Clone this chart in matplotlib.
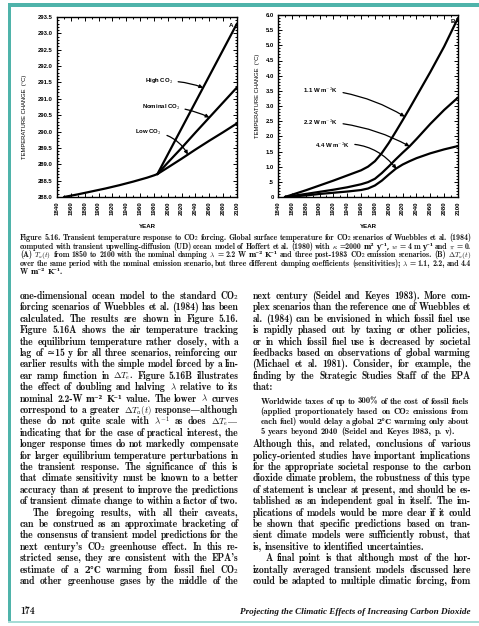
import matplotlib
matplotlib.use("Agg")
import matplotlib.pyplot as plt
from matplotlib.patches import Rectangle
from matplotlib.ticker import MultipleLocator

plt.rcParams['mathtext.fontset'] = 'cm'

# ---------------- data ----------------
# panel A : surface temperature, common history then three CO2 scenarios
years_past = [1850, 1870, 1890, 1910, 1930, 1950, 1960, 1970, 1980, 1985]
temp_past = [288.0, 288.08, 288.17, 288.26, 288.36, 288.47, 288.53, 288.59, 288.66, 288.70]
years_future = [1985, 2000, 2020, 2040, 2060, 2080, 2100]
temp_high = [288.70, 289.30, 290.10, 290.90, 291.70, 292.50, 293.30]
temp_nominal = [288.70, 289.05, 289.50, 289.97, 290.43, 290.89, 291.35]
temp_low = [288.70, 288.90, 289.17, 289.45, 289.72, 289.98, 290.25]

# panel B : temperature change for three damping coefficients
years_b = [1850, 1880, 1900, 1920, 1940, 1960, 1970, 1980, 1990, 2000, 2010, 2020, 2030, 2040, 2060, 2080, 2100]
dT_11 = [0, 0.22, 0.38, 0.54, 0.71, 0.88, 1.00, 1.18, 1.45, 1.78, 2.15, 2.53, 2.92, 3.32, 4.12, 4.96, 5.90]
dT_22 = [0, 0.10, 0.17, 0.24, 0.32, 0.42, 0.49, 0.60, 0.79, 1.01, 1.24, 1.46, 1.67, 1.91, 2.41, 2.87, 3.28]
dT_44 = [0, 0.05, 0.10, 0.14, 0.18, 0.23, 0.28, 0.38, 0.54, 0.74, 0.93, 1.07, 1.18, 1.28, 1.44, 1.57, 1.68]

year_ticks = [1840, 1860, 1880, 1900, 1920, 1940, 1960, 1980, 2000, 2020, 2040, 2060, 2080, 2100]
temp_ticks = [288.0, 288.5, 289.0, 289.5, 290.0, 290.5, 291.0, 291.5, 292.0, 292.5, 293.0, 293.5]
temp_labels = ['288.0', '288.5', '289.0', '289.5', '290.0', '290.5', '291.0', '291.5',
               '292.0', '292.5', '293.0', '293.5']
dT_ticks = [0, 0.5, 1.0, 1.5, 2.0, 2.5, 3.0, 3.5, 4.0, 4.5, 5.0, 5.5, 6.0]
dT_labels = ['0', '.5', '1.0', '1.5', '2.0', '2.5', '3.0', '3.5', '4.0', '4.5', '5.0', '5.5', '6.0']

# words are split on spaces, so math pieces carry no spaces inside
caption = [
    r"Figure 5.16.  Transient temperature response to CO₂ forcing. Global surface temperature for CO₂ scenarios of Wuebbles et al. (1984)",
    r"computed with transient upwelling-diffusion (UD) ocean model of Hoffert et al. (1980) with $\kappa$ =2000 m² y⁻¹, $w$ = 4 m y⁻¹ and $\pi$ = 0.",
    r"(A) $T_a(t)$ from 1850 to 2100 with the nominal damping $\lambda$ = 2.2 W m⁻² K⁻¹ and three post-1983 CO₂ emission scenarios. (B) $\Delta{T}_a(t)$",
    r"over the same period with the nominal emission scenario, but three different damping coefficients (sensitivities); $\lambda$ = 1.1, 2.2, and 4.4",
    r"W m⁻² K⁻¹.",
]

left_col = [
    r"one-dimensional ocean model to the standard CO₂",
    r"forcing scenarios of Wuebbles et al. (1984) has been",
    r"calculated.  The results are shown in Figure 5.16.",
    r"Figure 5.16A shows the air temperature tracking",
    r"the equilibrium temperature rather closely, with a",
    r"lag of ≃15 y for all three scenarios, reinforcing our",
    r"earlier results with the simple model forced by a lin-",
    r"ear ramp function in $\Delta{T}_e$.  Figure 5.16B illustrates",
    r"the effect of doubling and halving $\lambda$ relative to its",
    r"nominal 2.2-W m⁻² K⁻¹ value.  The lower $\lambda$ curves",
    r"correspond to a greater $\Delta{T}_a(t)$ response—although",
    r"these do not quite scale with $\lambda^{-1}$ as does $\Delta{T}_e\mathrm{—}$",
    r"indicating that for the case of practical interest, the",
    r"longer response times do not markedly compensate",
    r"for larger equilibrium temperature perturbations in",
    r"the transient response.  The significance of this is",
    r"that climate sensitivity must be known to a better",
    r"accuracy than at present to improve the predictions",
    r"of transient climate change to within a factor of two.",
    r"The foregoing results, with all their caveats,",
    r"can be construed as an approximate bracketing of",
    r"the consensus of transient model predictions for the",
    r"next century's CO₂ greenhouse effect.  In this re-",
    r"stricted sense, they are consistent with the EPA's",
    r"estimate of a 2°C warming from fossil fuel CO₂",
    r"and other greenhouse gases by the middle of the",
]

right_top = [
    r"next century (Seidel and Keyes 1983).  More com-",
    r"plex scenarios than the reference one of Wuebbles et",
    r"al. (1984) can be envisioned in which fossil fuel use",
    r"is rapidly phased out by taxing or other policies,",
    r"or in which fossil fuel use is decreased by societal",
    r"feedbacks based on observations of global warming",
    r"(Michael et al. 1981).  Consider, for example, the",
    r"finding by the Strategic Studies Staff of the EPA",
    r"that:",
]

quote = [
    r"Worldwide taxes of up to 300% of the cost of fossil fuels",
    r"(applied proportionately based on CO₂ emissions from",
    r"each fuel) would delay a global 2°C warming only about",
    r"5 years beyond 2040 (Seidel and Keyes 1983, p. v).",
]

right_bottom = [
    r"Although this, and related, conclusions of various",
    r"policy-oriented studies have important implications",
    r"for the appropriate societal response to the carbon",
    r"dioxide climate problem, the robustness of this type",
    r"of statement is unclear at present, and should be es-",
    r"tablished as an independent goal in itself.  The im-",
    r"plications of models would be more clear if it could",
    r"be shown that specific predictions based on tran-",
    r"sient climate models were sufficiently robust, that",
    r"is, insensitive to identified uncertainties.",
    r"A final point is that although most of the hor-",
    r"izontally averaged transient models discussed here",
    r"could be adapted to multiple climatic forcing, from",
]

# ---------------- page ----------------
W, H = 479, 626
fig = plt.figure(figsize=(W / 100, H / 100), dpi=100)
renderer = fig.canvas.get_renderer()

INK = '#151515'
SERIF = ['cmb10', 'DejaVu Serif']
SANS = 'Liberation Sans'


def fx(x):
    return x / W


def fy(y):
    return 1 - y / H


# teal frame of the screenshot
fig.patches.append(Rectangle((fx(8), fy(7.3)), fx(471), 4.0 / H, transform=fig.transFigure,
                             color='#4fb3aa', lw=0))
fig.patches.append(Rectangle((fx(7.5), fy(622)), 3.6 / W, 615 / H, transform=fig.transFigure,
                             color='#4fb3aa', lw=0))
fig.patches.append(Rectangle((fx(8), fy(622.5)), fx(471), 1.8 / H, transform=fig.transFigure,
                             color='#a6dcd6', lw=0))


def style_axes(ax, yminor):
    ax.set_xlim(1840, 2100)
    ax.xaxis.set_minor_locator(MultipleLocator(10))
    ax.yaxis.set_minor_locator(MultipleLocator(yminor))
    ax.tick_params(which='both', direction='in', top=True, right=True, width=0.7, colors='k')
    ax.tick_params(which='major', length=3, pad=3)
    ax.tick_params(which='minor', length=1.6)
    ax.set_xticks(year_ticks, [str(y) for y in year_ticks], rotation=90,
                  fontsize=4.4, fontweight='bold', family=SANS)
    for s in ax.spines.values():
        s.set_linewidth(1.0)


arrow = dict(arrowstyle='-|>', lw=0.9, color='k', mutation_scale=5,
             shrinkA=1.5, shrinkB=0, connectionstyle='arc3,rad=-0.12')
note = dict(fontsize=4.3, family=SANS, fontweight='bold', ha='right', va='center')

# panel A
axA = fig.add_axes([fx(57), fy(197), 180 / W, 180 / H])
style_axes(axA, 0.1)
axA.set_ylim(288.0, 293.5)
axA.set_yticks(temp_ticks, temp_labels, fontsize=4.2, fontweight='bold', family=SANS)
axA.plot(years_past, temp_past, color='k', lw=1.6, solid_capstyle='round')
for series in (temp_high, temp_nominal, temp_low):
    axA.plot(years_future, series, color='k', lw=1.6, solid_capstyle='round')
axA.annotate('High CO$_2$', xy=(2051, 291.34), xytext=(2008, 291.52), arrowprops=arrow, **note)
axA.annotate('Nominal CO$_2$', xy=(2060, 290.43), xytext=(2018, 290.75), arrowprops=arrow, **note)
axA.annotate('Low CO$_2$', xy=(2029, 289.30), xytext=(1992, 289.97),
             arrowprops=dict(arrow, connectionstyle='arc3,rad=-0.3'), **note)
axA.text(2092, 293.25, 'A', fontsize=4.5, fontweight='bold', family=SANS, ha='center', va='center')

# panel B
axB = fig.add_axes([fx(278), fy(197), 180 / W, 182 / H])
style_axes(axB, 0.1)
axB.set_ylim(0, 6.0)
axB.set_yticks(dT_ticks, dT_labels, fontsize=4.2, fontweight='bold', family=SANS)
for series in (dT_11, dT_22, dT_44):
    axB.plot(years_b, series, color='k', lw=1.6, solid_capstyle='round')
axB.annotate('1.1 W m$^{-2}$K', xy=(2023, 2.65), xytext=(1927, 3.54), arrowprops=arrow, **note)
axB.annotate('2.2 W m$^{-2}$K', xy=(2030, 1.67), xytext=(1927, 2.48), arrowprops=arrow, **note)
axB.annotate('4.4 W m$^{-2}$K', xy=(2011, 0.93), xytext=(1944, 1.70),
             arrowprops=dict(arrow, connectionstyle='arc3,rad=-0.3'), **note)
axB.text(2092, 5.8, 'B', fontsize=4.5, fontweight='bold', family=SANS, ha='center', va='center')

for x, y in ((25, 117), (258, 96)):
    fig.text(fx(x), fy(y), 'TEMPERATURE CHANGE  (°C)', rotation=90, fontsize=4.2,
             family=SANS, ha='center', va='center')
for x in (147, 368):
    fig.text(fx(x), fy(227), 'YEAR', fontsize=4.4, fontweight='bold', family=SANS,
             ha='center', va='center')


# ---------------- justified text ----------------
def word_style(s, size):
    # cmb10 maps the Latin-1 range to TeX glyphs, so such words go to DejaVu Serif
    if any(c in s for c in '°²¹'):
        return dict(fontsize=size * 0.88, family='DejaVu Serif', fontweight='bold')
    if '$' in s:
        # math pieces come out a bit tall next to cmb10
        return dict(fontsize=size * 0.93, family=SERIF)
    return dict(fontsize=size, family=SERIF)


def word_width(s, size):
    t = fig.text(0, 0, s, **word_style(s, size))
    w = t.get_window_extent(renderer).width
    t.remove()
    return w


def fit_size(lines, width, base=7.0):
    size = base
    for line in lines:
        words = line.split()
        need = sum(word_width(w, base) for w in words) + (len(words) - 1) * base * 0.24 * 100 / 72
        size = min(size, base * width / need)
    return size


def set_line(line, x0, x1, base_y, size, justify=True):
    words = line.split()
    widths = [word_width(w, size) for w in words]
    if justify and len(words) > 1:
        gap = (x1 - x0 - sum(widths)) / (len(words) - 1)
    else:
        gap = size * 0.33 * 100 / 72
    x = x0
    for w, wd in zip(words, widths):
        fig.text(fx(x), fy(base_y), w, color=INK, ha='left', va='baseline', **word_style(w, size))
        x += wd + gap


L0, L1 = 20, 238.5
R0, R1 = 252.5, 471
STEP = 11.4
INDENT = 13

# caption
cap_size = fit_size(caption[:4], R1 - L0)
for i, line in enumerate(caption):
    set_line(line, L0, R1, 240.3 + 8.5 * i, cap_size, justify=(i < 4))

# body
body_size = fit_size(left_col[:19] + left_col[20:] + right_top[:8] + right_bottom[:9] + right_bottom[11:],
                     L1 - L0)
for i, line in enumerate(left_col):
    x0 = L0 + INDENT if i == 19 else L0
    set_line(line, x0, L1, 299 + STEP * i, body_size)

for i, line in enumerate(right_top):
    set_line(line, R0, R1, 299 + STEP * i, body_size, justify=(i < 8))

q0, q1 = R0 + 8, R1 - 2
quote_size = fit_size(quote[:3], q1 - q0)
for i, line in enumerate(quote):
    set_line(line, q0, q1, 403.5 + 10 * i, quote_size, justify=(i < 3))

for i, line in enumerate(right_bottom):
    x0 = R0 + INDENT if i == 10 else R0
    set_line(line, x0, R1, 447.2 + STEP * i, body_size, justify=(i != 9))

# running foot
fig.text(fx(L0), fy(614), '174', fontsize=body_size, family=SERIF, color=INK, va='baseline')
fig.text(fx(R1), fy(614), 'Projecting the Climatic Effects of Increasing Carbon Dioxide',
         fontsize=6.6, family='Liberation Serif', style='italic', fontweight='bold',
         color=INK, ha='right', va='baseline')

fig.savefig('out.png', dpi=100, facecolor='white')
